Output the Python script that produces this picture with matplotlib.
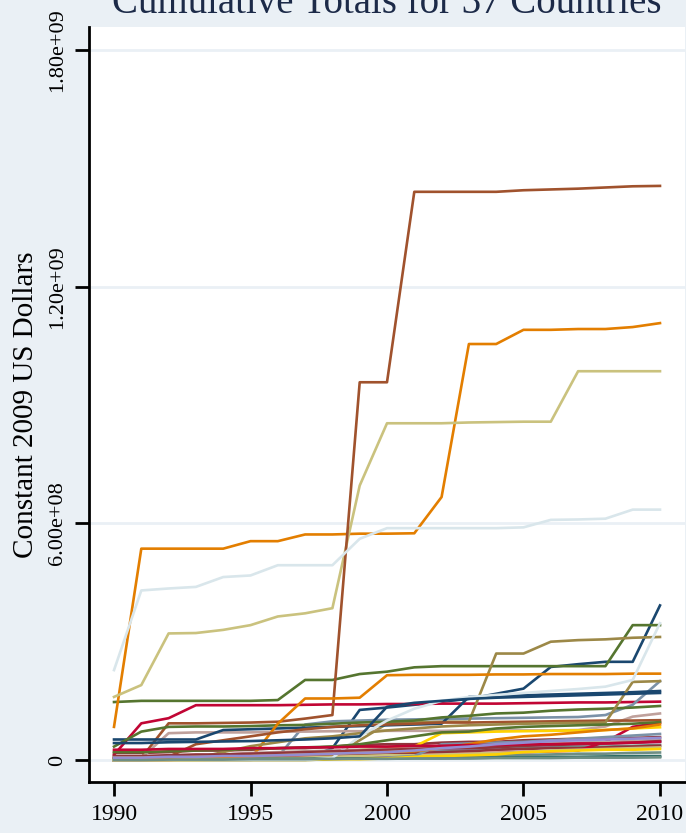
import numpy as np
import matplotlib
matplotlib.use("Agg")
import matplotlib.pyplot as plt

plt.rcParams['font.family'] = ['Liberation Serif', 'DejaVu Serif']

years = list(range(1990, 2011))

# Cumulative totals per country, millions of constant 2009 US dollars
s01 = [3, 3, 3, 3, 3, 3, 3, 3, 30, 127, 133, 140, 148, 155, 168, 181, 236, 243, 249, 249, 392]
s02 = [18, 18, 20, 24, 24, 26, 30, 30, 34, 38, 40, 40, 44, 46, 46, 50, 52, 54, 54, 56, 58]
s03 = [147, 150, 150, 150, 150, 150, 152, 203, 203, 218, 224, 235, 238, 238, 238, 238, 238, 238, 238, 342, 342]
s04 = [84, 536, 536, 536, 536, 555, 555, 572, 572, 574, 574, 575, 667, 1055, 1055, 1091, 1091, 1093, 1093, 1098, 1108]
s05 = [8, 8, 10, 10, 12, 16, 16, 18, 20, 22, 22, 24, 26, 26, 28, 30, 32, 34, 34, 36, 38]
s06 = [13, 93, 106, 139, 139, 139, 139, 140, 141, 141, 142, 142, 143, 143, 143, 144, 145, 146, 146, 147, 148]
s07 = [2, 2, 4, 4, 6, 8, 8, 10, 14, 18, 22, 26, 30, 32, 34, 36, 38, 40, 42, 44, 46]
s08 = [160, 190, 321, 322, 330, 342, 364, 372, 385, 696, 854, 854, 854, 856, 857, 858, 858, 986, 986, 986, 986]
s09 = [0, 5, 93, 93, 94, 95, 97, 105, 114, 958, 958, 1441, 1441, 1441, 1441, 1445, 1447, 1449, 1452, 1455, 1456]
s10 = [0, 0, 0, 0, 0, 0, 8, 90, 98, 100, 102, 103, 104, 105, 106, 107, 108, 109, 114, 140, 200]
s11 = [0, 0, 1, 1, 2, 2, 3, 3, 3, 4, 4, 5, 5, 6, 7, 7, 8, 8, 9, 10, 10]
s12 = [0, 0, 0, 0, 0, 0, 0, 0, 10, 50, 92, 95, 97, 97, 270, 270, 300, 304, 306, 310, 312]
s13 = [0, 5, 68, 70, 70, 70, 72, 72, 73, 73, 74, 74, 74, 75, 75, 75, 75, 76, 85, 110, 118]
s14 = [0, 0, 0, 0, 1, 2, 2, 3, 20, 25, 30, 34, 68, 70, 72, 73, 74, 75, 76, 80, 83]
s15 = [228, 430, 435, 439, 464, 468, 494, 494, 494, 561, 588, 588, 588, 588, 588, 590, 609, 610, 612, 635, 635]
s16 = [52, 52, 52, 52, 76, 78, 80, 82, 84, 86, 88, 90, 92, 160, 162, 164, 166, 168, 170, 172, 175]
s17 = [4, 4, 6, 8, 8, 10, 12, 12, 14, 14, 16, 18, 20, 22, 26, 28, 30, 30, 32, 34, 36]
s18 = [34, 72, 84, 85, 85, 86, 88, 89, 92, 95, 97, 100, 108, 112, 118, 120, 125, 128, 130, 133, 137]
s19 = [3, 3, 3, 3, 3, 3, 92, 156, 156, 158, 215, 216, 216, 216, 217, 217, 218, 218, 218, 219, 219]
s20 = [2, 2, 2, 3, 3, 4, 4, 5, 6, 6, 8, 8, 10, 10, 12, 13, 14, 16, 16, 18, 19]
s21 = [0, 0, 0, 2, 2, 4, 4, 6, 6, 8, 10, 12, 14, 16, 18, 20, 22, 24, 46, 84, 95]
s22 = [4, 4, 6, 6, 8, 10, 12, 14, 16, 20, 24, 24, 28, 30, 32, 40, 42, 42, 44, 46, 48]
s23 = [0, 0, 0, 0, 2, 4, 4, 6, 8, 10, 12, 12, 14, 16, 18, 20, 24, 26, 28, 30, 32]
s24 = [0, 0, 8, 40, 50, 60, 70, 78, 84, 88, 90, 92, 95, 95, 96, 97, 98, 99, 100, 100, 101]
s25 = [0, 0, 0, 0, 0, 0, 0, 0, 2, 4, 6, 10, 40, 42, 44, 46, 50, 54, 58, 62, 66]
s26 = [1, 1, 2, 2, 2, 3, 3, 3, 4, 4, 4, 5, 5, 5, 6, 6, 6, 7, 7, 8, 8]
s27 = [0, 0, 0, 5, 20, 35, 45, 55, 60, 68, 75, 80, 85, 88, 90, 92, 93, 94, 95, 198, 200]
s28 = [0, 0, 4, 10, 14, 18, 20, 22, 24, 26, 28, 30, 34, 36, 38, 40, 42, 44, 46, 48, 52]
s29 = [0, 0, 0, 0, 0, 0, 0, 0, 2, 2, 4, 8, 10, 12, 14, 20, 22, 24, 26, 26, 28]
s30 = [0, 0, 0, 0, 0, 0, 0, 0, 5, 60, 100, 130, 150, 160, 165, 170, 175, 180, 186, 203, 347]
s31 = [43, 43, 45, 46, 47, 48, 50, 52, 55, 60, 135, 145, 150, 155, 158, 160, 162, 164, 166, 168, 170]
s32 = [10, 10, 12, 14, 14, 16, 18, 20, 22, 24, 26, 28, 30, 30, 32, 36, 38, 40, 42, 44, 48]
s33 = [20, 20, 22, 24, 26, 28, 30, 32, 34, 40, 50, 60, 70, 72, 80, 84, 86, 88, 90, 92, 96]
s34 = [6, 6, 6, 8, 8, 10, 12, 14, 16, 18, 20, 22, 30, 40, 52, 60, 64, 70, 76, 80, 90]
s35 = [0, 0, 1, 1, 1, 2, 2, 2, 3, 3, 3, 4, 4, 4, 5, 5, 5, 6, 6, 6, 7]
s36 = [26, 26, 28, 28, 28, 30, 30, 32, 32, 34, 34, 36, 36, 38, 38, 40, 40, 42, 42, 44, 46]
s37 = [6, 6, 8, 8, 10, 10, 12, 14, 16, 18, 20, 24, 30, 34, 40, 44, 48, 50, 52, 54, 56]

series = [s01, s02, s03, s04, s05, s06, s07, s08, s09, s10, s11, s12, s13,
          s14, s15, s16, s17, s18, s19, s20, s21, s22, s23, s24, s25, s26,
          s27, s28, s29, s30, s31, s32, s33, s34, s35, s36, s37]

# s2color line cycle
palette = ['#1a476f', '#90353b', '#55752f', '#e37e00', '#6e8e84', '#c10534',
           '#938dd2', '#cac27e', '#a0522d', '#7b92a8', '#2d6d66', '#9c8847',
           '#bfa19c', '#ffd200', '#d9e6eb']

ytick_vals = [0, 6.0e8, 1.2e9, 1.8e9]
ytick_labels = ['0', '6.00e+08', '1.20e+09', '1.80e+09']
xtick_vals = [1990, 1995, 2000, 2005, 2010]

bg = '#eaf0f5'
W, H = 686, 833
fig = plt.figure(figsize=(W / 100, H / 100), dpi=100, facecolor=bg)
ax = fig.add_axes([89 / W, 1 - 782 / H, (685 - 89) / W, (782 - 27) / H])
ax.set_facecolor('white')

for yv in ytick_vals:
    ax.axhline(yv, color=bg, lw=2.0, zorder=0)

for i, vals in enumerate(series):
    ax.plot(years, np.array(vals) * 1e6, color=palette[i % len(palette)],
            lw=1.9, zorder=2)

ax.set_xlim(1989.084, 2010.916)
ax.set_ylim(-5.58e7, 1.859e9)

ax.set_yticks(ytick_vals)
ax.set_yticklabels(ytick_labels, rotation=90, va='center')
ax.set_xticks(xtick_vals)
ax.set_xticklabels([str(x) for x in xtick_vals])

for side in ('top', 'right'):
    ax.spines[side].set_visible(False)
for side in ('left', 'bottom'):
    ax.spines[side].set_linewidth(2.0)
    ax.spines[side].set_color('black')

ax.tick_params(axis='both', direction='out', length=10, width=2.0,
               colors='black')
ax.tick_params(axis='y', pad=6, labelsize=16)
ax.tick_params(axis='x', pad=6, labelsize=17)

ax.set_ylabel('Constant 2009 US Dollars', fontsize=21, labelpad=6)

fig.text(387 / W, 1 - 13 / H, 'Cumulative Totals for 37 Countries',
         ha='center', va='baseline', fontsize=28, color='#1c2a48')

fig.savefig('out.png', dpi=100, facecolor=bg)
